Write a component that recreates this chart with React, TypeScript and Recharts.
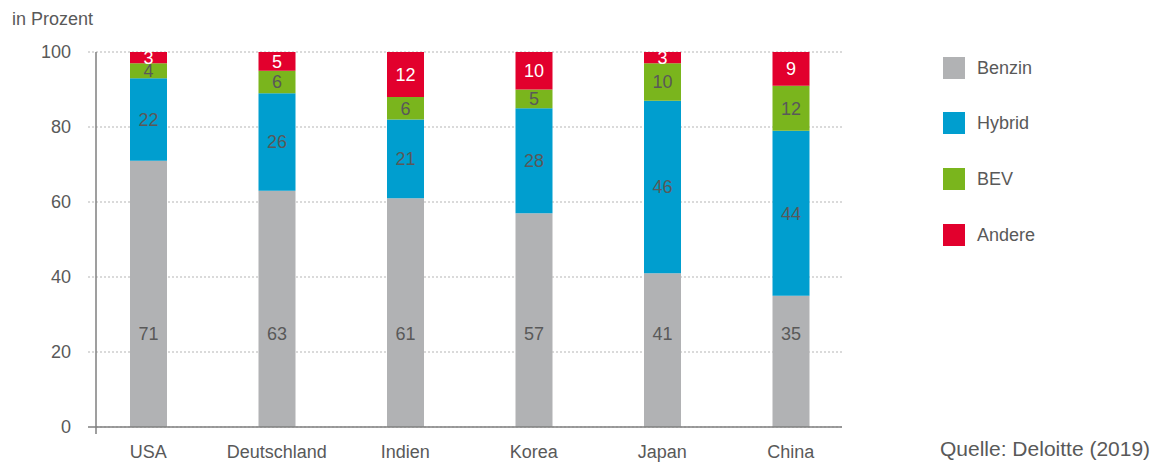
import React from 'react';
import { BarChart, Bar, XAxis, YAxis, CartesianGrid, LabelList } from 'recharts';

const countries = ['USA', 'Deutschland', 'Indien', 'Korea', 'Japan', 'China'];
const benzin = [71, 63, 61, 57, 41, 35];
const hybrid = [22, 26, 21, 28, 46, 44];
const bev = [4, 6, 6, 5, 10, 12];
const andere = [3, 5, 12, 10, 3, 9];
const yTicks = [0, 20, 40, 60, 80, 100];

const seriesNames = ['Benzin', 'Hybrid', 'BEV', 'Andere'];
const seriesKeys = ['benzin', 'hybrid', 'bev', 'andere'];
const seriesColors = ['#b1b2b4', '#009ecf', '#7ab51d', '#e2002d'];

const data = countries.map((c, i) => ({
  country: c,
  benzin: benzin[i],
  hybrid: hybrid[i],
  bev: bev[i],
  andere: andere[i],
}));

const FONT = '"Liberation Sans", Arial, Helvetica, sans-serif';
const TEXT = '#595959';
const AXIS = '#7f7f7f';

const YTick = (props: any) => {
  const { x, y, payload } = props;
  const isZero = payload.value === 0;
  return (
    <g>
      <line
        x1={x + 17}
        x2={x + 25}
        y1={y}
        y2={y}
        stroke={isZero ? AXIS : '#b5b5b5'}
        strokeWidth={isZero ? 1.5 : 1}
        strokeDasharray={isZero ? undefined : '2 2'}
      />
      {isZero && <line x1={x + 25} x2={x + 25} y1={y} y2={y + 7} stroke={AXIS} strokeWidth={1.5} />}
      <text x={x} y={y} dy="0.36em" textAnchor="end" fontSize={18} fill={TEXT} fontFamily={FONT}>
        {payload.value}
      </text>
    </g>
  );
};

export default function App() {
  return (
    <div style={{ position: 'relative', width: 1143, height: 454, fontFamily: FONT }}>
      <div
        style={{
          position: 'absolute',
          left: 4,
          top: 1.5,
          fontSize: 18,
          lineHeight: '18px',
          color: TEXT,
          whiteSpace: 'nowrap',
        }}
      >
        in Prozent
      </div>
      <BarChart
        width={1143}
        height={454}
        data={data}
        margin={{ top: 44, right: 309, bottom: 0, left: 0 }}
        barSize={37}
      >
        <CartesianGrid vertical={false} stroke="#b5b5b5" strokeDasharray="2 2" />
        <XAxis
          dataKey="country"
          padding={{ left: -12, right: -13 }}
          axisLine={{ stroke: AXIS, strokeWidth: 1.5 }}
          tickLine={false}
          tickSize={0}
          tickMargin={18}
          height={35}
          tick={{ fill: TEXT, fontSize: 18, fontFamily: FONT }}
          interval={0}
        />
        <YAxis
          type="number"
          domain={[0, 100]}
          ticks={yTicks}
          width={88}
          axisLine={{ stroke: AXIS, strokeWidth: 1.5 }}
          tickLine={false}
          tickSize={8}
          tickMargin={17}
          tick={<YTick />}
          interval={0}
        />
        {seriesKeys.map((k, i) => (
          <Bar key={k} dataKey={k} name={seriesNames[i]} stackId="a" fill={seriesColors[i]} isAnimationActive={false}>
            <LabelList
              dataKey={k}
              position={k === 'benzin' ? 'insideBottom' : 'center'}
              offset={k === 'benzin' ? 87 : 0}
              fill={k === 'andere' ? '#ffffff' : TEXT}
              fontSize={18}
              fontFamily={FONT}
            />
          </Bar>
        ))}
      </BarChart>
      <div style={{ position: 'absolute', left: 935, top: 48.5 }}>
        {seriesNames.map((n, i) => (
          <div key={n} style={{ display: 'flex', alignItems: 'center', height: 22, marginBottom: 33.8 }}>
            <div style={{ width: 22, height: 22, background: seriesColors[i] }} />
            <span style={{ marginLeft: 12, fontSize: 18, color: TEXT, lineHeight: '22px', whiteSpace: 'nowrap' }}>{n}</span>
          </div>
        ))}
      </div>
      <div
        style={{
          position: 'absolute',
          left: 932,
          top: 430,
          fontSize: 21,
          lineHeight: '21px',
          color: TEXT,
          whiteSpace: 'nowrap',
        }}
      >
        Quelle: Deloitte (2019)
      </div>
    </div>
  );
}
